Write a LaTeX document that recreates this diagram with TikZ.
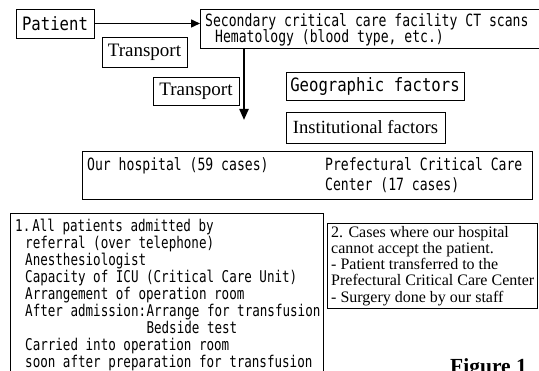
\documentclass[tikz,border=0pt]{standalone}
\usepackage{fontspec}
\setmainfont{Liberation Serif}
\newfontfamily\goth[FakeStretch=0.775]{DejaVu Sans Mono}
\newfontfamily\gothw[FakeStretch=0.85]{DejaVu Sans Mono}
\usetikzlibrary{arrows.meta}
\begin{document}
\begin{tikzpicture}[x=1pt,y=-1pt,
  box/.style={draw, line width=0.9pt, inner sep=0pt},
  gs/.style={font=\goth\fontsize{16.9}{18}\selectfont, inner sep=0pt},
  gb/.style={font=\goth\fontsize{16.2}{18}\selectfont, inner sep=0pt},
  gl/.style={font=\gothw\fontsize{18.4}{21}\selectfont, inner sep=0pt},
  sr/.style={font=\fontsize{19}{21}\selectfont},
  sb/.style={font=\fontsize{16}{16.2}\selectfont, inner sep=0pt, align=left},
  arrA/.style={line width=1.5pt, -{Triangle[length=9pt,width=8pt]}},
  arrB/.style={line width=2.2pt, -{Triangle[length=11pt,width=9pt]}}
]
\useasboundingbox (0,0) rectangle (539,371);
\clip (0,0) rectangle (539,371);
% top row
\node[box, gl, minimum width=78pt, minimum height=29pt] (pat) at (55,23.5) {Patient};
\node[box, minimum width=345pt, minimum height=39pt, anchor=north west] (sec) at (200,9) {};
\node[font=\goth\fontsize{16.9}{16.5}\selectfont, inner sep=0pt, align=left, anchor=north west] (sec1) at (205,13) {Secondary critical care facility CT scans\\\hspace*{10pt}Hematology (blood type, etc.)};
\draw[arrA] (pat.east) -- (pat.east -| sec.west);
\coordinate (tip) at (244,120);
\draw[arrB] (tip |- sec.south) -- (tip);
% transport labels
\node[box, sr, minimum width=85pt, minimum height=30pt] (tr1) at (144.5,52) {Transport};
\node[box, sr, minimum width=86pt, minimum height=28pt] (tr2) at (196,91) {Transport};
% factors
\node[box, gl, minimum width=178pt, minimum height=28pt] (geo) at (375,86) {Geographic factors};
\node[box, font=\fontsize{18.6}{20}\selectfont, minimum width=159pt, minimum height=31pt] (inst) at (365.5,127.5) {Institutional factors};
% hospitals
\node[box, minimum width=450pt, minimum height=48pt, anchor=north west] (our) at (82,151) {};
\node[gs, anchor=base west] (our1) at (87,171) {Our hospital (59 cases)};
\node[gs, anchor=base west] (pref1) at (325,171) {Prefectural Critical Care};
\node[gs, anchor=base west] (pref2) at (325,191) {Center (17 cases)};
% box 1
\node[box, minimum width=313pt, minimum height=180pt, anchor=north west] (b1) at (10,213) {};
\node[gb, anchor=base west] (l1) at (15,232) {1.\hspace{2pt}All patients admitted by};
\node[gb, anchor=base west] (l2) at (25,249) {referral (over telephone)};
\node[gb, anchor=base west] (l3) at (25,266) {Anesthesiologist};
\node[gb, anchor=base west] (l4) at (25,283) {Capacity of ICU (Critical Care Unit)};
\node[gb, anchor=base west] (l5) at (25,300) {Arrangement of operation room};
\node[gb, anchor=base west] (l6) at (25,317) {After admission:};
\node[gb, anchor=base west] (l6b) at (l6.base east) {Arrange for transfusion};
\node[gb, anchor=base west] (l7) at (l6b.west |- 0,334) {Bedside test};
\node[gb, anchor=base west] (l8) at (25,351) {Carried into operation room};
\node[gb, anchor=base west] (l9) at (25,368) {soon after preparation for transfusion};
% box 2
\node[box, minimum width=210pt, minimum height=85pt, anchor=north west] (b2) at (327,223) {};
\node[sb, anchor=north west] (t2) at (331,226) {2. Cases where our hospital\\cannot accept the patient.\\- Patient transferred to the\\Prefectural Critical Care Center\\- Surgery done by our staff};
% caption
\node[font=\bfseries\fontsize{21.5}{24}\selectfont, inner sep=0pt, anchor=base west] (fig) at (450,374) {Figure 1};
\end{tikzpicture}
\end{document}
